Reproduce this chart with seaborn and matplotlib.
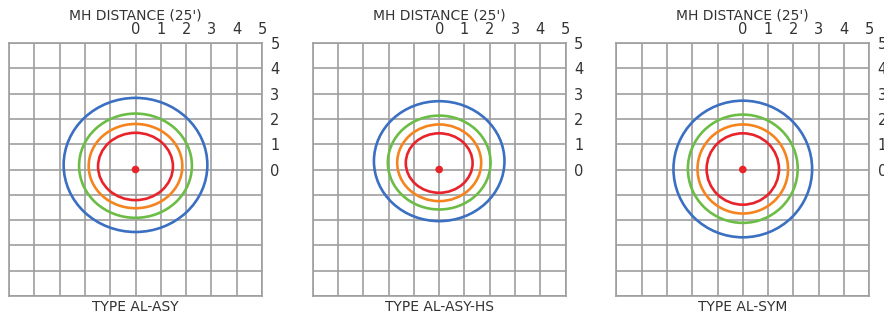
import matplotlib
matplotlib.use("Agg")
import matplotlib.pyplot as plt
import seaborn as sns
import pandas as pd
from matplotlib.patches import Ellipse

# panel names
panels = ["TYPE AL-ASY", "TYPE AL-ASY-HS", "TYPE AL-SYM"]
ring_colors = ["#3a6fc2", "#6cbd45", "#f5841f", "#e8232a"]

# extents of each contour (MH units): half width, top, bottom  (blue, green, orange, red)
half_width = [
    [2.84, 2.23, 1.85, 1.48],
    [2.58, 2.03, 1.66, 1.32],
    [2.74, 2.17, 1.79, 1.43],
]
top = [
    [2.83, 2.21, 1.80, 1.45],
    [2.70, 2.13, 1.78, 1.43],
    [2.72, 2.17, 1.78, 1.43],
]
bottom = [
    [-2.47, -1.91, -1.53, -1.21],
    [-2.04, -1.58, -1.25, -0.92],
    [-2.68, -2.11, -1.74, -1.39],
]

grid_ticks = list(range(-5, 6))
label_ticks = ["", "", "", "", "", "0", "1", "2", "3", "4", "5"]

sns.set_style("white")
plt.rcParams["font.family"] = ["DejaVu Sans"]

fig = plt.figure(figsize=(8.84, 3.18), dpi=100)
lefts = [9 / 884, 312.7 / 884, 616.3 / 884]

for i, name in enumerate(panels):
    ax = fig.add_axes([lefts[i], 22 / 318, 253 / 884, 253 / 318])
    ax.set_xlim(-5, 5)
    ax.set_ylim(-5, 5)
    ax.set_xticks(grid_ticks)
    ax.set_yticks(grid_ticks)
    ax.set_xticklabels(label_ticks)
    ax.set_yticklabels(label_ticks)
    ax.xaxis.tick_top()
    ax.yaxis.tick_right()
    ax.tick_params(length=0, labelsize=10.5, labelcolor="#333333", pad=4)
    ax.tick_params(axis="y", pad=6)
    ax.grid(True, color="#9e9e9e", lw=1.2)
    for s in ax.spines.values():
        s.set_color("#9e9e9e")
        s.set_linewidth(1.2)

    for j, c in enumerate(ring_colors):
        cy = (top[i][j] + bottom[i][j]) / 2
        h = top[i][j] - bottom[i][j]
        ax.add_patch(Ellipse((0, cy), 2 * half_width[i][j], h, fill=False,
                             edgecolor=c, lw=1.9, zorder=3))

    sns.scatterplot(data=pd.DataFrame({"x": [0], "y": [0]}), x="x", y="y", ax=ax,
                    color="#e8232a", s=30, edgecolor="none", zorder=4)
    ax.set_xlabel("")
    ax.set_ylabel("")

    tr = ax.get_xaxis_transform()
    ax.text(0, 1.11, "MH DISTANCE (25')", transform=tr, ha="center", va="center",
            fontsize=10, color="#333333")
    ax.text(0, -0.045, name, transform=tr, ha="center", va="center",
            fontsize=10, color="#333333")

fig.savefig("out.png", dpi=100)
